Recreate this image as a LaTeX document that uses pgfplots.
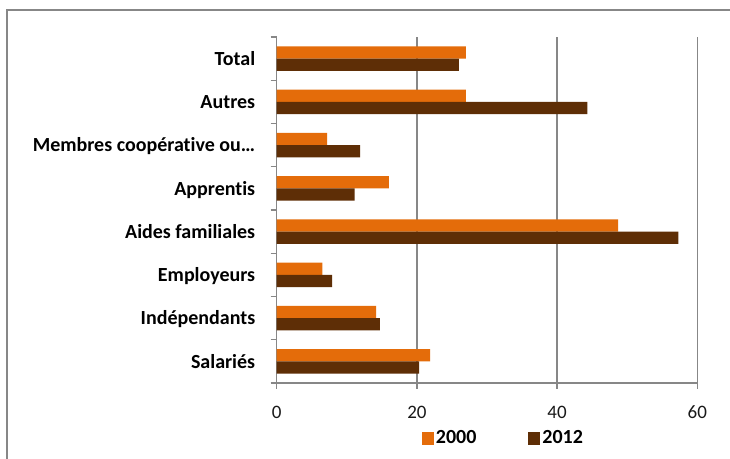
\documentclass[border=0pt]{standalone}
\usepackage{fontspec}
\setmainfont{Carlito}[Ligatures=NoCommon]
\usepackage{pgfplots}
\pgfplotsset{compat=1.18}
\definecolor{orangeA}{HTML}{E46C0A}
\definecolor{brownA}{HTML}{5E2E06}
\definecolor{axgray}{HTML}{878787}
\begin{document}
\begin{tikzpicture}[x=1bp,y=1bp]
\useasboundingbox (0,0) rectangle (730,459);
\fill[white] (0,0) rectangle (730,459);
\draw[axgray, line width=2bp] (7,0) -- (7,449) -- (730,449);
\begin{axis}[
  at={(276.7bp,76bp)}, anchor=south west,
  scale only axis, width=420.6bp, height=346bp,
  xbar, bar width=12.3bp,
  xmin=0, xmax=60, ymin=-0.5, ymax=7.5,
  xtick={0,20,40,60},
  ytick={0,...,7},
  yticklabels={Salariés,Indépendants,Employeurs,Aides familiales,Apprentis,Membres coopérative ou…,Autres,Total},
  minor ytick={-0.5,0.5,...,7.5},
  axis lines*=left,
  axis line style={axgray, line width=1.3bp},
  xmajorgrids, major grid style={axgray, line width=1.3bp},
  tick align=outside,
  major tick length=6bp, minor tick length=6bp,
  tick style={axgray, line width=1.3bp},
  major y tick style={draw=none},
  /pgf/number format/assume math mode=true,
  xticklabel style={font=\fontsize{19bp}{22bp}\selectfont, text=black!90, anchor=base, yshift=-30bp},
  yticklabel style={font=\bfseries\fontsize{20bp}{22bp}\selectfont, text=black, anchor=base east, yshift=-6.7bp, xshift=-12bp},
  legend style={at={(0.539,-0.159)}, anchor=center, draw=none, fill=none,
    font=\bfseries\fontsize{20bp}{22bp}\selectfont,
    /tikz/every even column/.append style={column sep=50bp}},
  legend columns=2,
  legend image code/.code={\fill[#1] (-3bp,-6.5bp) rectangle (9bp,6.5bp);},
]
\addplot[fill=orangeA, draw=none, bar shift=6.15bp] coordinates {
 (21.9,0) (14.2,1) (6.5,2) (48.7,3) (16.0,4) (7.2,5) (27.0,6) (27.0,7)};
\addplot[fill=brownA, draw=none, bar shift=-6.15bp] coordinates {
 (20.3,0) (14.7,1) (7.9,2) (57.3,3) (11.1,4) (11.9,5) (44.3,6) (26.0,7)};
\legend{2000,2012}
\end{axis}
\end{tikzpicture}
\end{document}
